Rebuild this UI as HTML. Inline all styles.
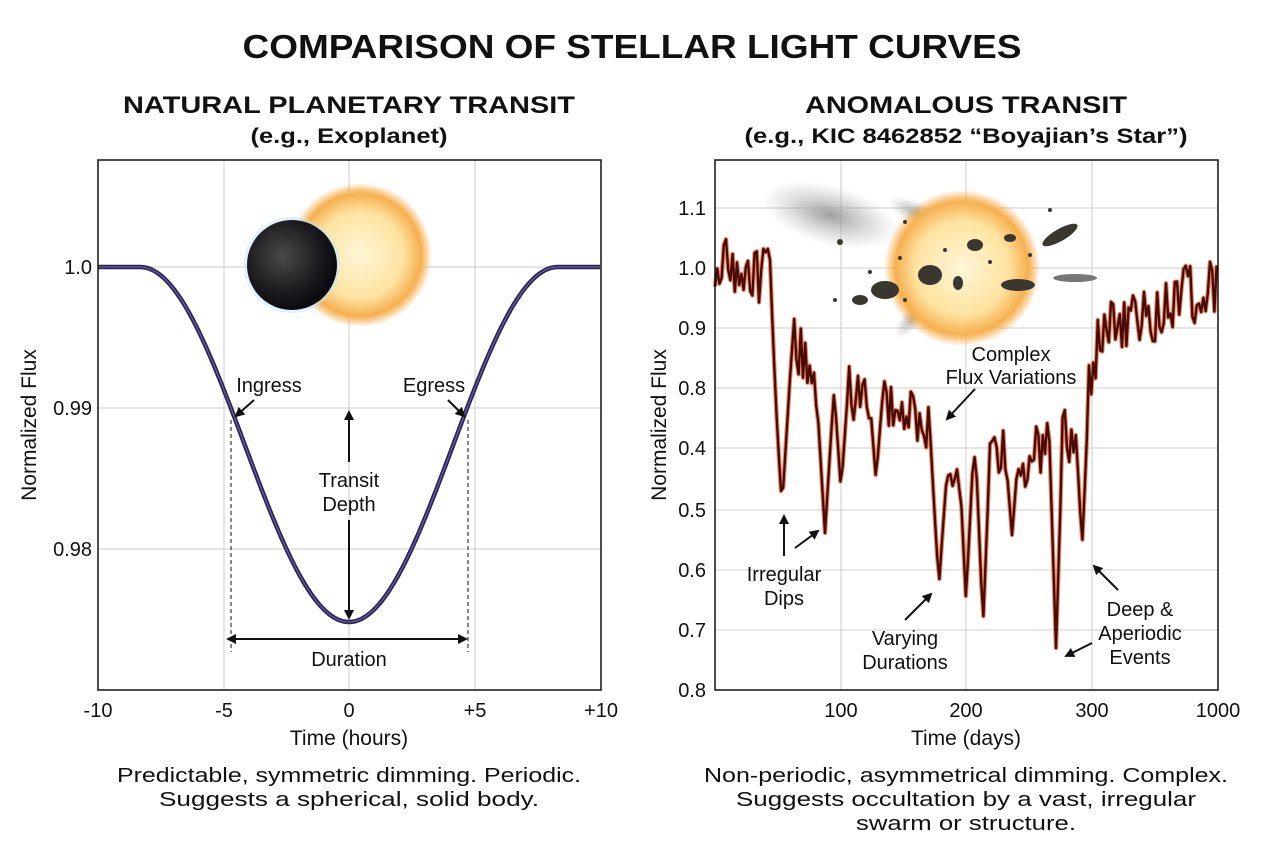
<!DOCTYPE html>
<html><head><meta charset="utf-8">
<style>
body{margin:0;background:#fff;width:1264px;height:848px;overflow:hidden;font-family:"Liberation Sans","DejaVu Sans",sans-serif;}
svg text{font-family:"Liberation Sans","DejaVu Sans",sans-serif;fill:#111;}
</style></head><body>
<svg id="s" width="1264" height="848" viewBox="0 0 1264 848" xmlns="http://www.w3.org/2000/svg">
<defs>
<radialGradient id="sun" cx="50%" cy="50%" r="50%">
<stop offset="0" stop-color="#fff6d8"/><stop offset="0.6" stop-color="#fde3a0"/><stop offset="0.85" stop-color="#f6b050"/><stop offset="1" stop-color="#f5a030" stop-opacity="0"/>
</radialGradient>
<radialGradient id="pl" cx="40%" cy="40%" r="60%">
<stop offset="0" stop-color="#4a4a4a"/><stop offset="0.7" stop-color="#1a1a1e"/><stop offset="1" stop-color="#0a0a10"/>
</radialGradient>
<radialGradient id="smk" cx="50%" cy="50%" r="50%">
<stop offset="0" stop-color="#888" stop-opacity="0.8"/><stop offset="1" stop-color="#aaa" stop-opacity="0"/>
</radialGradient>
<marker id="ah" markerWidth="10" markerHeight="10" refX="8" refY="5" orient="auto" markerUnits="userSpaceOnUse"><path d="M0,0 L10,5 L0,10 z" fill="#111"/></marker>
<marker id="ahs" markerWidth="10" markerHeight="10" refX="2" refY="5" orient="auto-start-reverse" markerUnits="userSpaceOnUse"><path d="M0,0 L10,5 L0,10 z" fill="#111"/></marker>
</defs>
<text x="632" y="58" text-anchor="middle" font-size="33" font-weight="bold" textLength="779" lengthAdjust="spacingAndGlyphs">COMPARISON OF STELLAR LIGHT CURVES</text>
<text x="349" y="113" text-anchor="middle" font-size="24" font-weight="bold" textLength="452" lengthAdjust="spacingAndGlyphs">NATURAL PLANETARY TRANSIT</text>
<text x="349" y="143" text-anchor="middle" font-size="21" font-weight="bold" textLength="197" lengthAdjust="spacingAndGlyphs">(e.g., Exoplanet)</text>
<text x="966" y="113" text-anchor="middle" font-size="24" font-weight="bold" textLength="322" lengthAdjust="spacingAndGlyphs">ANOMALOUS TRANSIT</text>
<text x="966" y="143" text-anchor="middle" font-size="21" font-weight="bold" textLength="443" lengthAdjust="spacingAndGlyphs">(e.g., KIC 8462852 “Boyajian’s Star”)</text>

<g stroke="#ccc" stroke-width="1">
<line x1="224" y1="160" x2="224" y2="690"/><line x1="349" y1="160" x2="349" y2="690"/><line x1="475" y1="160" x2="475" y2="690"/>
<line x1="98" y1="267" x2="601" y2="267"/><line x1="98" y1="408" x2="601" y2="408"/><line x1="98" y1="549" x2="601" y2="549"/>
</g>
<circle cx="360" cy="255" r="72" fill="url(#sun)"/>
<circle cx="292" cy="265" r="48" fill="#bfe4ff" opacity="0.5"/>
<circle cx="292" cy="265" r="45" fill="url(#pl)"/>
<path id="lc" fill="none" stroke="#2a2555" stroke-width="4.5"/>
<path id="lc2" fill="none" stroke="#6a5fa0" stroke-width="1.2"/>
<rect x="98" y="160" width="503" height="530" fill="none" stroke="#111" stroke-width="1.5"/>
<g font-size="20">
<text x="92" y="274" text-anchor="end">1.0</text><text x="92" y="415" text-anchor="end">0.99</text><text x="92" y="556" text-anchor="end">0.98</text>
<text x="98" y="717" text-anchor="middle">-10</text><text x="224" y="717" text-anchor="middle">-5</text><text x="349" y="717" text-anchor="middle">0</text><text x="475" y="717" text-anchor="middle">+5</text><text x="601" y="717" text-anchor="middle">+10</text>
<text x="349" y="745" text-anchor="middle" font-size="21">Time (hours)</text>
<text transform="translate(36,425) rotate(-90)" text-anchor="middle" font-size="21">Normalized Flux</text>
<text x="269" y="392" text-anchor="middle">Ingress</text><text x="434" y="392" text-anchor="middle">Egress</text>
<text x="349" y="487" text-anchor="middle">Transit</text><text x="349" y="511" text-anchor="middle">Depth</text>
<text x="349" y="666" text-anchor="middle">Duration</text>
</g>
<g stroke="#111" stroke-width="2" fill="none">
<line x1="254" y1="400" x2="236" y2="416" marker-end="url(#ah)"/>
<line x1="448" y1="400" x2="464" y2="416" marker-end="url(#ah)"/>
<line x1="349" y1="462" x2="349" y2="412" marker-end="url(#ah)"/>
<line x1="349" y1="520" x2="349" y2="618" marker-end="url(#ah)"/>
<line x1="234" y1="639" x2="466" y2="639" marker-end="url(#ah)" marker-start="url(#ahs)"/>
</g>
<g stroke="#111" stroke-width="1" stroke-dasharray="4,3"><line x1="231" y1="420" x2="231" y2="652"/><line x1="468" y1="420" x2="468" y2="652"/></g>
<text x="349" y="782" text-anchor="middle" font-size="20" textLength="464" lengthAdjust="spacingAndGlyphs">Predictable, symmetric dimming. Periodic.</text>
<text x="349" y="806" text-anchor="middle" font-size="20" textLength="380" lengthAdjust="spacingAndGlyphs">Suggests a spherical, solid body.</text>

<g stroke="#ccc" stroke-width="1">
<line x1="841" y1="160" x2="841" y2="690"/><line x1="966" y1="160" x2="966" y2="690"/><line x1="1092" y1="160" x2="1092" y2="690"/>
<line x1="715" y1="208" x2="1218" y2="208"/><line x1="715" y1="268" x2="1218" y2="268"/><line x1="715" y1="328" x2="1218" y2="328"/><line x1="715" y1="388" x2="1218" y2="388"/><line x1="715" y1="448" x2="1218" y2="448"/><line x1="715" y1="510" x2="1218" y2="510"/><line x1="715" y1="570" x2="1218" y2="570"/><line x1="715" y1="630" x2="1218" y2="630"/>
</g>
<ellipse cx="830" cy="215" rx="70" ry="30" fill="url(#smk)" transform="rotate(15 830 215)"/>
<ellipse cx="920" cy="215" rx="35" ry="12" fill="url(#smk)" transform="rotate(25 920 215)"/>
<ellipse cx="915" cy="315" rx="30" ry="10" fill="url(#smk)" transform="rotate(-50 915 315)"/>
<circle cx="962" cy="268" r="78" fill="url(#sun)"/>
<g fill="#3a3630">
<ellipse cx="885" cy="290" rx="14" ry="9"/><ellipse cx="930" cy="275" rx="12" ry="10"/><ellipse cx="860" cy="300" rx="8" ry="5"/><ellipse cx="975" cy="245" rx="8" ry="6"/><ellipse cx="1010" cy="238" rx="6" ry="4"/><ellipse cx="958" cy="283" rx="5" ry="7"/><ellipse cx="1060" cy="235" rx="20" ry="6" transform="rotate(-30 1060 235)"/><ellipse cx="1018" cy="285" rx="17" ry="6"/><ellipse cx="1075" cy="278" rx="22" ry="4" fill="#777"/><ellipse cx="840" cy="242" rx="3" ry="3"/><ellipse cx="905" cy="222" rx="2" ry="2"/>
<circle cx="900" cy="258" r="2"/><circle cx="945" cy="250" r="2"/><circle cx="990" cy="262" r="2"/><circle cx="1030" cy="255" r="2"/><circle cx="870" cy="272" r="2"/><circle cx="905" cy="300" r="2"/><circle cx="835" cy="300" r="2"/><circle cx="1050" cy="210" r="2"/>
</g>
<path id="rc0" fill="none" stroke="#e06030" stroke-width="4.5" opacity="0.7" stroke-linejoin="round"/>
<path id="rc" fill="none" stroke="#4a0a06" stroke-width="2.4" stroke-linejoin="round"/>
<rect x="715" y="160" width="503" height="530" fill="none" stroke="#111" stroke-width="1.5"/>
<g font-size="20">
<text x="706" y="215" text-anchor="end">1.1</text><text x="706" y="275" text-anchor="end">1.0</text><text x="706" y="335" text-anchor="end">0.9</text><text x="706" y="395" text-anchor="end">0.8</text><text x="706" y="455" text-anchor="end">0.4</text><text x="706" y="517" text-anchor="end">0.5</text><text x="706" y="577" text-anchor="end">0.6</text><text x="706" y="637" text-anchor="end">0.7</text><text x="706" y="697" text-anchor="end">0.8</text>
<text x="841" y="717" text-anchor="middle">100</text><text x="966" y="717" text-anchor="middle">200</text><text x="1092" y="717" text-anchor="middle">300</text><text x="1218" y="717" text-anchor="middle">1000</text>
<text x="966" y="745" text-anchor="middle" font-size="21">Time (days)</text>
<text transform="translate(666,425) rotate(-90)" text-anchor="middle" font-size="21">Normalized Flux</text>
<text x="1011" y="361" text-anchor="middle">Complex</text><text x="1011" y="384" text-anchor="middle">Flux Variations</text>
<text x="784" y="581" text-anchor="middle">Irregular</text><text x="784" y="605" text-anchor="middle">Dips</text>
<text x="905" y="645" text-anchor="middle">Varying</text><text x="905" y="669" text-anchor="middle">Durations</text>
<text x="1140" y="616" text-anchor="middle">Deep &amp;</text><text x="1140" y="640" text-anchor="middle">Aperiodic</text><text x="1140" y="664" text-anchor="middle">Events</text>
</g>
<g stroke="#111" stroke-width="2" fill="none">
<line x1="784" y1="556" x2="784" y2="516" marker-end="url(#ah)"/>
<line x1="795" y1="548" x2="818" y2="531" marker-end="url(#ah)"/>
<line x1="975" y1="389" x2="947" y2="419" marker-end="url(#ah)"/>
<line x1="905" y1="620" x2="931" y2="594" marker-end="url(#ah)"/>
<line x1="1118" y1="590" x2="1094" y2="566" marker-end="url(#ah)"/>
<line x1="1092" y1="643" x2="1066" y2="656" marker-end="url(#ah)"/>
</g>
<text x="966" y="782" text-anchor="middle" font-size="20" textLength="524" lengthAdjust="spacingAndGlyphs">Non-periodic, asymmetrical dimming. Complex.</text>
<text x="966" y="806" text-anchor="middle" font-size="20" textLength="460" lengthAdjust="spacingAndGlyphs">Suggests occultation by a vast, irregular</text>
<text x="966" y="830" text-anchor="middle" font-size="20" textLength="220" lengthAdjust="spacingAndGlyphs">swarm or structure.</text>
</svg>
<script>
(function(){
var d="";
for(var x=98;x<=601;x+=2){var t=(x-349)/25.15;var T=8.3;var f=Math.abs(t)<T?(1+Math.cos(Math.PI*t/T))/2:0;var y=267+355*f;d+=(x==98?"M":"L")+x+","+y.toFixed(1);}
document.getElementById("lc").setAttribute("d",d);document.getElementById("lc2").setAttribute("d",d);
var K=[[715,268],[770,280],[778,330],[790,330],[800,350],[815,385],[840,395],[880,395],[925,425],[945,460],[975,470],[1000,455],[1040,445],[1075,430],[1090,390],[1100,330],[1140,315],[1180,295],[1218,290]];
function base(x){for(var i=0;i<K.length-1;i++){if(x>=K[i][0]&&x<=K[i+1][0]){var u=(x-K[i][0])/(K[i+1][0]-K[i][0]);return K[i][1]+u*(K[i+1][1]-K[i][1]);}}return 285;}
var D=[[782,507,5],[825,533,4],[841,490,3],[876,480,3],[939,585,4],[966,600,3],[983,626,3],[1012,535,3],[1056,648,3],[1082,548,3],[1026,495,2]];
var s=98765;function r(){s=(s*1103515245+12345)%2147483648;return s/2147483648;}
var e="";var prev=0;
for(var x=715;x<=1218;x+=2.2){var n=(r()-0.5)*70;n=0.15*prev+0.85*n;prev=n;var y=base(x)+n;
for(var j=0;j<D.length;j++){var dd=Math.abs(x-D[j][0]);if(dd<D[j][2]*2.2){var v=D[j][1]-(D[j][1]-base(x))*(dd/(D[j][2]*2.2));if(v>y)y=v;}}
y=Math.max(200,Math.min(685,y));e+=(x==715?"M":"L")+x.toFixed(1)+","+y.toFixed(1);}
document.getElementById("rc").setAttribute("d",e);document.getElementById("rc0").setAttribute("d",e);
})();
</script>
</body></html>
